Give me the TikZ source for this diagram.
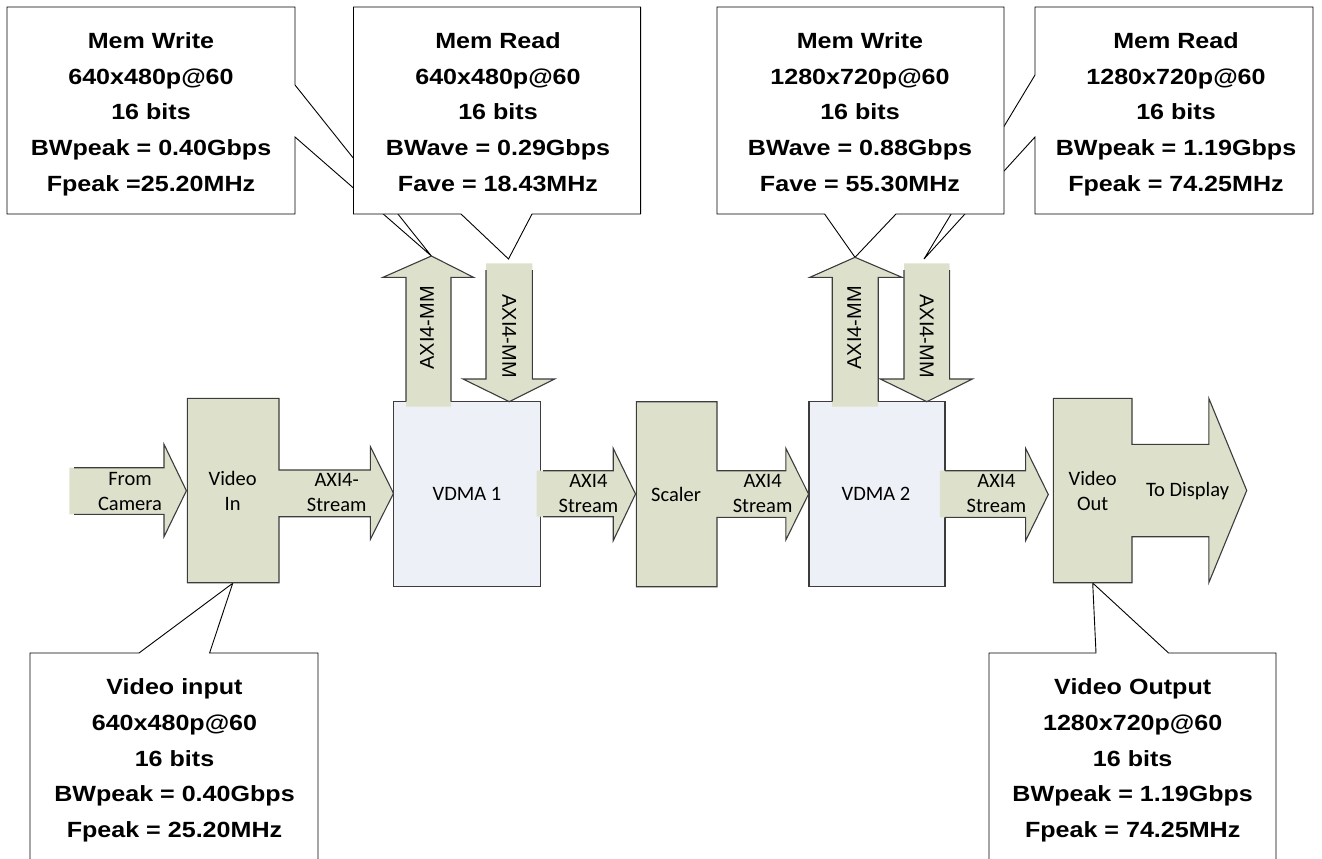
\documentclass[tikz,border=0pt]{standalone}
\usepackage{fontspec}
\setmainfont{Carlito}
\newfontfamily\cfont[FakeStretch=1.14]{Liberation Sans}
\newfontfamily\afont{Liberation Sans}
\definecolor{GreenF}{RGB}{221,225,203}
\definecolor{BlueF}{RGB}{237,240,246}
\definecolor{Edge}{RGB}{60,60,60}
\newcommand{\myph}{\vphantom{dp}}
\begin{document}
\begin{tikzpicture}[x=1pt,y=-1pt,
  callout/.style={draw=black,line width=0.9pt,fill=white,line join=miter},
  ctext/.style={align=center,inner sep=0pt,font=\cfont\bfseries\fontsize{22}{35.8}\selectfont},
  gshape/.style={draw=Edge,line width=1.1pt,fill=GreenF,line join=miter},
  gfillonly/.style={fill=GreenF},
  gedge/.style={draw=Edge,line width=1.1pt,line join=miter},
  bbox/.style={draw=Edge,line width=1.1pt,fill=BlueF},
  btext/.style={align=center,inner sep=0pt,font=\fontsize{20.5}{25}\selectfont},
  mmtext/.style={inner sep=0pt,font=\afont\fontsize{20}{24}\selectfont}]
\useasboundingbox (0,0) rectangle (1322,859);
\clip (0,0) rectangle (1322,859);

% ---- top callouts ----
\path[callout] (7,7) -- (295,7) -- (295,85) -- (431.4,256) -- (295,137) -- (295,214) -- (7,214) -- cycle;
\path[callout] (353.5,7) -- (640.6,7) -- (640.6,214) -- (532,214) -- (508.5,259) -- (461,214) -- (353.5,214) -- cycle;
\path[callout] (1035,7) -- (1313,7) -- (1313,214) -- (1035,214) -- (1035,137) -- (924,259) -- (1035,75) -- cycle;
\path[callout] (717,7) -- (1004,7) -- (1004,214) -- (896,214) -- (855,257.3) -- (824.6,214) -- (717,214) -- cycle;

\node[ctext] (mw1) at (151,114.3) {\myph Mem Write\\640x480p@60\\16 bits\\BWpeak = 0.40Gbps\\Fpeak =25.20MHz\myph};
\node[ctext] (mr1) at (498,114.3) {\myph Mem Read\\640x480p@60\\16 bits\\BWave = 0.29Gbps\\Fave = 18.43MHz\myph};
\node[ctext] (mw2) at (860,114.3) {\myph Mem Write\\1280x720p@60\\16 bits\\BWave = 0.88Gbps\\Fave = 55.30MHz\myph};
\node[ctext] (mr2) at (1176,114.3) {\myph Mem Read\\1280x720p@60\\16 bits\\BWpeak = 1.19Gbps\\Fpeak = 74.25MHz\myph};

% ---- bottom callouts ----
\path[callout] (30,653) -- (139,653) -- (232.7,583.3) -- (209.6,653) -- (318,653) -- (318,880) -- (30,880) -- cycle;
\path[callout] (989,653) -- (1096,653) -- (1092.7,583) -- (1168.6,653) -- (1276,653) -- (1276,880) -- (989,880) -- cycle;
\node[ctext] (vin) at (174.5,760.5) {\myph Video input\\640x480p@60\\16 bits\\BWpeak = 0.40Gbps\\Fpeak = 25.20MHz\myph};
\node[ctext] (vout) at (1132.7,760.5) {\myph Video Output\\1280x720p@60\\16 bits\\BWpeak = 1.19Gbps\\Fpeak = 74.25MHz\myph};

% ---- From Camera arrow ----
\path[gfillonly] (69.4,467.7) -- (164,467.7) -- (164,444.3) -- (186.4,490.7) -- (164,536.7) -- (164,514.3) -- (69.4,514.3) -- cycle;
\path[gedge] (74,467.7) -- (164,467.7) -- (164,444.3) -- (186.4,490.7) -- (164,536.7) -- (164,514.3) -- (74,514.3);

% ---- Video In block ----
\path[gshape] (187.3,398.3) -- (279,398.3) -- (279,470) -- (370.4,470) -- (370.4,446.7) -- (393.5,493.3) -- (370.4,539.3) -- (370.4,516.7) -- (279,516.7) -- (279,582.7) -- (187.3,582.7) -- cycle;

% ---- VDMA 1 ----
\path[bbox] (393.5,401.7) rectangle (540.8,586.7);

% ---- AXI4 Stream after VDMA 1 ----
\path[gfillonly] (536.6,470.7) -- (613.2,470.7) -- (613.2,448.3) -- (635.5,494) -- (613.2,540.7) -- (613.2,516.7) -- (536.6,516.7) -- cycle;
\path[gedge] (543,470.7) -- (613.2,470.7) -- (613.2,448.3) -- (635.5,494) -- (613.2,540.7) -- (613.2,516.7) -- (543,516.7);

% ---- Scaler block ----
\path[gshape] (636.4,401.7) -- (717,401.7) -- (717,470.7) -- (785.8,470.7) -- (785.8,448.3) -- (808.6,494) -- (785.8,540) -- (785.8,517.3) -- (717,517.3) -- (717,586.7) -- (636.4,586.7) -- cycle;

% ---- VDMA 2 ----
\path[bbox] (809,401.7) rectangle (945,586.7);

% ---- AXI4 Stream after VDMA 2 ----
\path[gfillonly] (939.9,470.7) -- (1025.6,470.7) -- (1025.6,448.3) -- (1048.3,494.5) -- (1025.6,540.7) -- (1025.6,517.3) -- (939.9,517.3) -- cycle;
\path[gedge] (945,470.7) -- (1025.6,470.7) -- (1025.6,448.3) -- (1048.3,494.5) -- (1025.6,540.7) -- (1025.6,517.3) -- (945,517.3);

% ---- Video Out block ----
\path[gshape] (1053.4,398.3) -- (1132,398.3) -- (1132,444.3) -- (1208.8,444.3) -- (1208.8,398.3) -- (1246.7,490.5) -- (1208.8,582.7) -- (1208.8,536.7) -- (1132,536.7) -- (1132,582.7) -- (1053.4,582.7) -- cycle;

% ---- AXI4-MM arrows, VDMA 1 ----
\path[gfillonly] (406,406.7) -- (406,277.3) -- (383,277.3) -- (431.4,256) -- (473.5,277.3) -- (451,277.3) -- (451,406.7) -- cycle;
\path[gedge] (406,401.7) -- (406,277.3) -- (383,277.3) -- (431.4,256) -- (473.5,277.3) -- (451,277.3) -- (451,401.7);
\path[gfillonly] (486,263.3) -- (532.4,263.3) -- (532.4,379) -- (554.7,379) -- (509.3,401.7) -- (463,379) -- (486,379) -- cycle;
\path[gedge] (486,270) -- (486,379) -- (463,379) -- (509.3,401.7) -- (554.7,379) -- (532.4,379) -- (532.4,270);

% ---- AXI4-MM arrows, VDMA 2 ----
\path[gfillonly] (832.2,406.7) -- (832.2,277.3) -- (809.9,277.3) -- (855,257.3) -- (901.9,277.3) -- (878.2,277.3) -- (878.2,406.7) -- cycle;
\path[gedge] (832.2,401.7) -- (832.2,277.3) -- (809.9,277.3) -- (855,257.3) -- (901.9,277.3) -- (878.2,277.3) -- (878.2,401.7);
\path[gfillonly] (904,263.3) -- (949.6,263.3) -- (949.6,379) -- (972.4,379) -- (926.8,401.7) -- (880.3,379) -- (904,379) -- cycle;
\path[gedge] (904,270) -- (904,379) -- (880.3,379) -- (926.8,401.7) -- (972.4,379) -- (949.6,379) -- (949.6,270);

% ---- block texts ----
\node[btext] (cam) at (130,491) {From\\Camera};
\node[btext] (vinb) at (232.7,491) {Video\\In};
\node[btext] (s1) at (336.7,492.5) {AXI4-\\Stream};
\node[btext] (vdma1) at (467,494.3) {VDMA 1};
\node[btext] (s2) at (588.4,493) {AXI4\\Stream};
\node[btext] (scaler) at (676,494) {Scaler};
\node[btext] (s3) at (762.6,493) {AXI4\\Stream};
\node[btext] (vdma2) at (876,494) {VDMA 2};
\node[btext] (s4) at (996.4,493) {AXI4\\Stream};
\node[btext] (voutb) at (1092.7,491) {Video\\Out};
\node[btext] (disp) at (1187.6,491) {To Display};

\node[mmtext,rotate=90] (mm1) at (427,328) {AXI4-MM};
\node[mmtext,rotate=-90] (mm2) at (509.3,336) {AXI4-MM};
\node[mmtext,rotate=90] (mm3) at (854.2,328) {AXI4-MM};
\node[mmtext,rotate=-90] (mm4) at (926.8,336) {AXI4-MM};
\end{tikzpicture}
\end{document}
